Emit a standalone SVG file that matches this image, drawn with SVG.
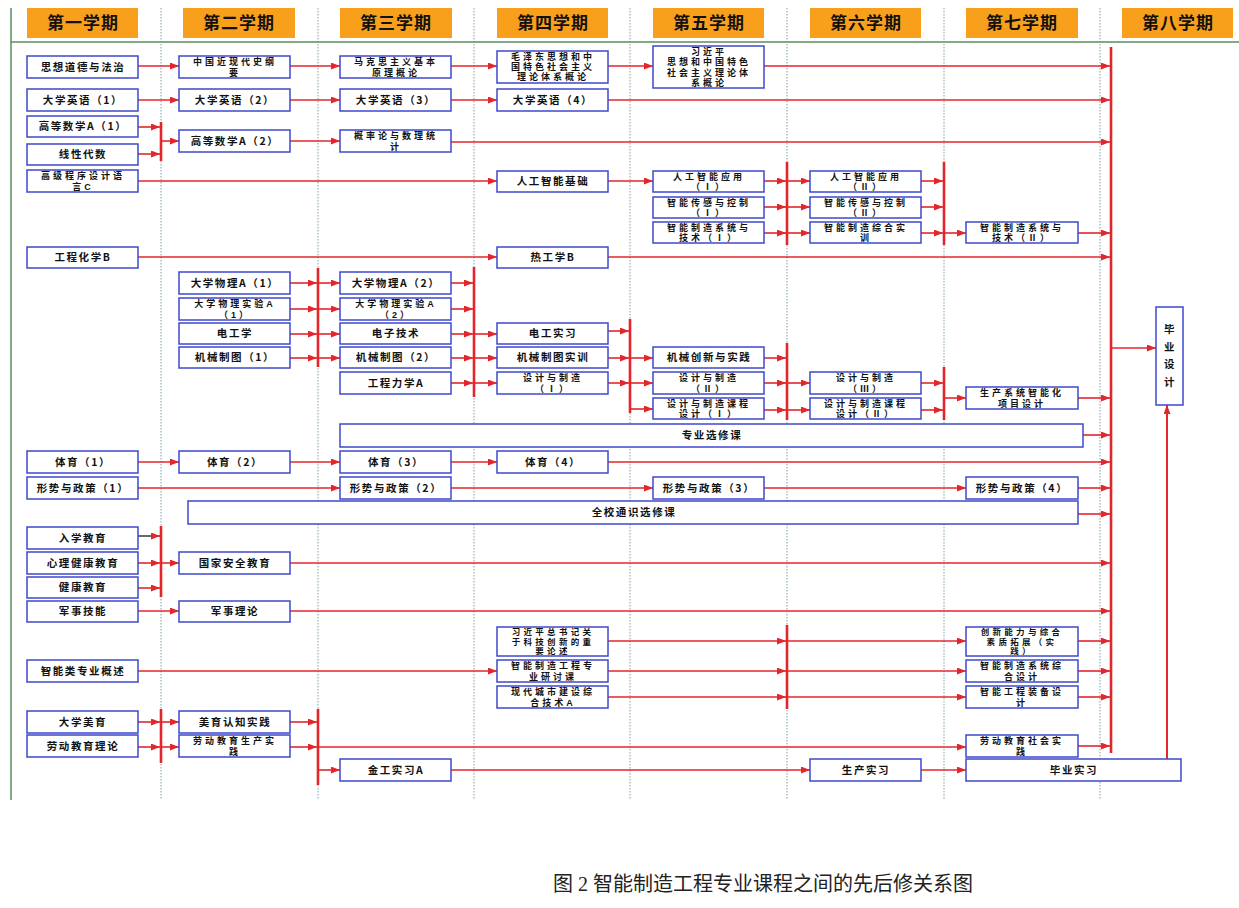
<svg xmlns="http://www.w3.org/2000/svg" width="1239" height="908" viewBox="0 0 1239 908">
<style>
.hd rect{fill:#F8A01C}
.hd text{font-family:"Noto Sans CJK SC","Noto Sans",sans-serif;font-size:17px;font-weight:700;text-anchor:middle;fill:#111;letter-spacing:1px}
.n rect{fill:#fff;stroke:#3F48CC;stroke-width:1.5}
.n text{font-family:"Noto Sans CJK SC","Noto Sans",sans-serif;font-size:10.5px;font-weight:700;text-anchor:middle;fill:#111;letter-spacing:1.6px}
.n text.m{font-family:"Liberation Sans","Noto Sans CJK SC",sans-serif;font-size:9px;letter-spacing:3px}
.n text.t{font-family:"Liberation Sans","Noto Sans CJK SC",sans-serif;font-size:8.5px;letter-spacing:3.3px}
.sep{stroke:#7FA0A8;stroke-width:1;stroke-dasharray:1.5 1.5}
.c line{stroke:#E3262B;stroke-width:1.6;fill:none}
.c line.a{marker-end:url(#ah)}
.c line.b{stroke-width:2.6}
.c line.k{stroke:#444}
.cap{font-family:"Liberation Serif","Noto Sans CJK SC",serif;font-size:20px;fill:#222}
</style>
<defs>
<marker id="ah" markerUnits="userSpaceOnUse" markerWidth="9" markerHeight="7" refX="9" refY="3.5" orient="auto"><path d="M0,0 L9,3.5 L0,7 z" fill="#E3262B"/></marker>
</defs>
<rect width="1239" height="908" fill="#fff"/>
<g id="frame">
<line x1="11" y1="8" x2="11" y2="800" stroke="#5B8C5B" stroke-width="1.5"/>
<line x1="11" y1="42" x2="1239" y2="42" stroke="#5B8C5B" stroke-width="1.5"/>
<line class="sep" x1="161" y1="8" x2="161" y2="800"/>
<line class="sep" x1="318" y1="8" x2="318" y2="800"/>
<line class="sep" x1="474" y1="8" x2="474" y2="800"/>
<line class="sep" x1="630" y1="8" x2="630" y2="800"/>
<line class="sep" x1="787" y1="8" x2="787" y2="800"/>
<line class="sep" x1="944" y1="8" x2="944" y2="800"/>
<line class="sep" x1="1100" y1="8" x2="1100" y2="800"/>
</g>
<g id="headers" class="hd">
<g id="h1"><rect x="27" y="8" width="111" height="30"/><text x="83" y="29">第一学期</text></g>
<g id="h2"><rect x="183" y="8" width="112" height="30"/><text x="239" y="29">第二学期</text></g>
<g id="h3"><rect x="340" y="8" width="112" height="30"/><text x="396" y="29">第三学期</text></g>
<g id="h4"><rect x="497" y="8" width="111" height="30"/><text x="553" y="29">第四学期</text></g>
<g id="h5"><rect x="653" y="8" width="111" height="30"/><text x="709" y="29">第五学期</text></g>
<g id="h6"><rect x="810" y="8" width="111" height="30"/><text x="866" y="29">第六学期</text></g>
<g id="h7"><rect x="966" y="8" width="112" height="30"/><text x="1022" y="29">第七学期</text></g>
<g id="h8"><rect x="1122" y="8" width="111" height="30"/><text x="1178" y="29">第八学期</text></g>
</g>
<g id="connectors" class="c">
<line class="a" x1="138" y1="66" x2="179" y2="66"/>
<line class="a" x1="290" y1="66" x2="340" y2="66"/>
<line class="a" x1="451" y1="66" x2="497" y2="66"/>
<line class="a" x1="608" y1="66" x2="653" y2="66"/>
<line class="a" x1="764" y1="66" x2="1110" y2="66"/>
<line class="a" x1="138" y1="100" x2="179" y2="100"/>
<line class="a" x1="290" y1="100" x2="340" y2="100"/>
<line class="a" x1="451" y1="100" x2="497" y2="100"/>
<line class="a" x1="608" y1="100" x2="1110" y2="100"/>
<line class="a" x1="138" y1="127" x2="160" y2="127"/>
<line class="a" x1="138" y1="154" x2="160" y2="154"/>
<line class="b" x1="161" y1="122" x2="161" y2="161"/>
<line class="a" x1="161" y1="141" x2="179" y2="141"/>
<line class="a" x1="290" y1="141" x2="340" y2="141"/>
<line class="a" x1="451" y1="142" x2="1110" y2="142"/>
<line class="a" x1="138" y1="181" x2="497" y2="181"/>
<line class="a" x1="608" y1="181" x2="653" y2="181"/>
<line class="a" x1="764" y1="181" x2="786" y2="181"/>
<line class="a" x1="764" y1="207" x2="786" y2="207"/>
<line class="a" x1="764" y1="233" x2="786" y2="233"/>
<line class="b" x1="787" y1="162" x2="787" y2="245"/>
<line class="a" x1="787" y1="181" x2="810" y2="181"/>
<line class="a" x1="787" y1="207" x2="810" y2="207"/>
<line class="a" x1="787" y1="233" x2="810" y2="233"/>
<line class="a" x1="921" y1="181" x2="943" y2="181"/>
<line class="a" x1="921" y1="207" x2="943" y2="207"/>
<line class="a" x1="921" y1="233" x2="943" y2="233"/>
<line class="b" x1="944" y1="162" x2="944" y2="245"/>
<line class="a" x1="944" y1="233" x2="966" y2="233"/>
<line class="a" x1="1078" y1="233" x2="1110" y2="233"/>
<line class="a" x1="138" y1="257" x2="497" y2="257"/>
<line class="a" x1="608" y1="257" x2="1110" y2="257"/>
<line class="a" x1="290" y1="283" x2="317" y2="283"/>
<line class="a" x1="290" y1="309" x2="317" y2="309"/>
<line class="a" x1="290" y1="334" x2="317" y2="334"/>
<line class="a" x1="290" y1="358" x2="317" y2="358"/>
<line class="b" x1="318" y1="268" x2="318" y2="367"/>
<line class="a" x1="318" y1="283" x2="340" y2="283"/>
<line class="a" x1="318" y1="309" x2="340" y2="309"/>
<line class="a" x1="318" y1="334" x2="340" y2="334"/>
<line class="a" x1="318" y1="358" x2="340" y2="358"/>
<line class="a" x1="451" y1="283" x2="473" y2="283"/>
<line class="a" x1="451" y1="309" x2="473" y2="309"/>
<line class="a" x1="451" y1="334" x2="473" y2="334"/>
<line class="a" x1="451" y1="358" x2="473" y2="358"/>
<line class="a" x1="451" y1="383" x2="473" y2="383"/>
<line class="b" x1="474" y1="267" x2="474" y2="397"/>
<line class="a" x1="474" y1="334" x2="497" y2="334"/>
<line class="a" x1="474" y1="358" x2="497" y2="358"/>
<line class="a" x1="474" y1="383" x2="497" y2="383"/>
<line class="a" x1="608" y1="331" x2="629" y2="331"/>
<line class="a" x1="608" y1="358" x2="629" y2="358"/>
<line class="a" x1="608" y1="383" x2="629" y2="383"/>
<line class="b" x1="630" y1="319" x2="630" y2="413"/>
<line class="a" x1="630" y1="358" x2="653" y2="358"/>
<line class="a" x1="630" y1="383" x2="653" y2="383"/>
<line class="a" x1="630" y1="409" x2="653" y2="409"/>
<line class="a" x1="764" y1="358" x2="786" y2="358"/>
<line class="a" x1="764" y1="383" x2="786" y2="383"/>
<line class="a" x1="764" y1="410" x2="786" y2="410"/>
<line class="b" x1="787" y1="343" x2="787" y2="420"/>
<line class="a" x1="787" y1="383" x2="810" y2="383"/>
<line class="a" x1="787" y1="410" x2="810" y2="410"/>
<line class="a" x1="921" y1="383" x2="943" y2="383"/>
<line class="a" x1="921" y1="410" x2="943" y2="410"/>
<line class="b" x1="944" y1="367" x2="944" y2="420"/>
<line class="a" x1="944" y1="398" x2="966" y2="398"/>
<line class="a" x1="1078" y1="398" x2="1110" y2="398"/>
<line class="a" x1="1083" y1="435" x2="1110" y2="435"/>
<line class="a" x1="138" y1="462" x2="179" y2="462"/>
<line class="a" x1="290" y1="462" x2="340" y2="462"/>
<line class="a" x1="451" y1="462" x2="497" y2="462"/>
<line class="a" x1="608" y1="462" x2="1110" y2="462"/>
<line class="a" x1="138" y1="488" x2="340" y2="488"/>
<line class="a" x1="451" y1="488" x2="653" y2="488"/>
<line class="a" x1="764" y1="488" x2="966" y2="488"/>
<line class="a" x1="1078" y1="488" x2="1110" y2="488"/>
<line class="a" x1="1078" y1="514" x2="1110" y2="514"/>
<line class="a k" x1="138" y1="536" x2="160" y2="536"/>
<line class="a" x1="138" y1="563" x2="160" y2="563"/>
<line class="a" x1="138" y1="588" x2="160" y2="588"/>
<line class="b" x1="161" y1="526" x2="161" y2="597"/>
<line class="a" x1="161" y1="563" x2="179" y2="563"/>
<line class="a" x1="290" y1="563" x2="1110" y2="563"/>
<line class="a" x1="138" y1="611" x2="179" y2="611"/>
<line class="a" x1="290" y1="611" x2="1110" y2="611"/>
<line class="a" x1="138" y1="671" x2="497" y2="671"/>
<line class="a" x1="608" y1="641" x2="786" y2="641"/>
<line class="a" x1="608" y1="671" x2="786" y2="671"/>
<line class="a" x1="608" y1="697" x2="786" y2="697"/>
<line class="b" x1="787" y1="625" x2="787" y2="709"/>
<line class="a" x1="787" y1="641" x2="966" y2="641"/>
<line class="a" x1="787" y1="671" x2="966" y2="671"/>
<line class="a" x1="787" y1="697" x2="966" y2="697"/>
<line class="a" x1="1078" y1="641" x2="1110" y2="641"/>
<line class="a" x1="1078" y1="671" x2="1110" y2="671"/>
<line class="a" x1="1078" y1="697" x2="1110" y2="697"/>
<line class="a" x1="138" y1="722" x2="160" y2="722"/>
<line class="a" x1="138" y1="747" x2="160" y2="747"/>
<line class="b" x1="161" y1="709" x2="161" y2="763"/>
<line class="a" x1="161" y1="722" x2="179" y2="722"/>
<line class="a" x1="161" y1="747" x2="179" y2="747"/>
<line class="a" x1="290" y1="722" x2="317" y2="722"/>
<line class="a" x1="290" y1="747" x2="317" y2="747"/>
<line class="b" x1="318" y1="709" x2="318" y2="785"/>
<line class="a" x1="318" y1="747" x2="966" y2="747"/>
<line class="a" x1="318" y1="770" x2="340" y2="770"/>
<line class="a" x1="451" y1="770" x2="810" y2="770"/>
<line class="a" x1="921" y1="770" x2="966" y2="770"/>
<line class="a" x1="1078" y1="746" x2="1110" y2="746"/>
<line class="b" x1="1111" y1="47" x2="1111" y2="753"/>
<line class="a" x1="1111" y1="348" x2="1156" y2="348"/>
<line class="a" x1="1167" y1="759" x2="1167" y2="405" style="stroke-width:2"/>
</g>
<g id="nodes" class="n">
<g id="n1"><rect x="27" y="56" width="111" height="22"/><text x="83" y="70.8">思想道德与法治</text></g>
<g id="n2"><rect x="179" y="56" width="111" height="22"/><text class="m" x="235" y="65">中国近现代史纲<tspan x="235" dy="10.5">要</tspan></text></g>
<g id="n3"><rect x="340" y="56" width="111" height="22"/><text class="m" x="396" y="65">马克思主义基本<tspan x="396" dy="10.5">原理概论</tspan></text></g>
<g id="n4"><rect x="497" y="51" width="111" height="32"/><text class="m" x="553" y="60.1">毛泽东思想和中<tspan x="553" dy="10.1">国特色社会主义</tspan><tspan x="553" dy="10.1">理论体系概论</tspan></text></g>
<g id="n5"><rect x="653" y="46" width="111" height="42"/><text class="m" x="709" y="54.5">习近平<tspan x="709" dy="10.5">思想和中国特色</tspan><tspan x="709" dy="10.5">社会主义理论体</tspan><tspan x="709" dy="10.5">系概论</tspan></text></g>
<g id="n6"><rect x="27" y="89" width="111" height="22"/><text x="83" y="103.8">大学英语（1）</text></g>
<g id="n7"><rect x="179" y="89" width="111" height="22"/><text x="235" y="103.8">大学英语（2）</text></g>
<g id="n8"><rect x="340" y="89" width="111" height="22"/><text x="396" y="103.8">大学英语（3）</text></g>
<g id="n9"><rect x="497" y="89" width="111" height="22"/><text x="553" y="103.8">大学英语（4）</text></g>
<g id="n10"><rect x="27" y="116" width="111" height="21"/><text x="83" y="130.3">高等数学A（1）</text></g>
<g id="n11"><rect x="27" y="144" width="111" height="21"/><text x="83" y="158.3">线性代数</text></g>
<g id="n12"><rect x="179" y="130" width="111" height="22"/><text x="235" y="144.8">高等数学A（2）</text></g>
<g id="n13"><rect x="340" y="130" width="111" height="22"/><text class="m" x="396" y="139">概率论与数理统<tspan x="396" dy="10.5">计</tspan></text></g>
<g id="n14"><rect x="27" y="170" width="111" height="22"/><text class="m" x="83" y="179">高级程序设计语<tspan x="83" dy="10.5">言C</tspan></text></g>
<g id="n15"><rect x="497" y="171" width="111" height="21"/><text x="553" y="185.3">人工智能基础</text></g>
<g id="n16"><rect x="653" y="171" width="111" height="21"/><text class="m" x="709" y="179.5">人工智能应用<tspan x="709" dy="10.5">（Ⅰ）</tspan></text></g>
<g id="n17"><rect x="653" y="197" width="111" height="21"/><text class="m" x="709" y="205.5">智能传感与控制<tspan x="709" dy="10.5">（Ⅰ）</tspan></text></g>
<g id="n18"><rect x="653" y="222" width="111" height="21"/><text class="m" x="709" y="230.5">智能制造系统与<tspan x="709" dy="10.5">技术（Ⅰ）</tspan></text></g>
<g id="n19"><rect x="810" y="171" width="111" height="21"/><text class="m" x="866" y="179.5">人工智能应用<tspan x="866" dy="10.5">（Ⅱ）</tspan></text></g>
<g id="n20"><rect x="810" y="197" width="111" height="21"/><text class="m" x="866" y="205.5">智能传感与控制<tspan x="866" dy="10.5">（Ⅱ）</tspan></text></g>
<g id="n21"><rect x="810" y="222" width="111" height="21"/><text class="m" x="866" y="230.5">智能制造综合实<tspan x="866" dy="10.5">训</tspan></text></g>
<g id="n22"><rect x="966" y="222" width="112" height="21"/><text class="m" x="1022" y="230.5">智能制造系统与<tspan x="1022" dy="10.5">技术（Ⅱ）</tspan></text></g>
<g id="n23"><rect x="27" y="247" width="111" height="21"/><text x="83" y="261.3">工程化学B</text></g>
<g id="n24"><rect x="497" y="247" width="111" height="21"/><text x="553" y="261.3">热工学B</text></g>
<g id="n25"><rect x="179" y="272" width="111" height="22"/><text x="235" y="286.8">大学物理A（1）</text></g>
<g id="n26"><rect x="179" y="298" width="111" height="22"/><text class="m" x="235" y="307">大学物理实验A<tspan x="235" dy="10.5">（1）</tspan></text></g>
<g id="n27"><rect x="179" y="323" width="111" height="21"/><text x="235" y="337.3">电工学</text></g>
<g id="n28"><rect x="179" y="347" width="111" height="21"/><text x="235" y="361.3">机械制图（1）</text></g>
<g id="n29"><rect x="340" y="272" width="111" height="22"/><text x="396" y="286.8">大学物理A（2）</text></g>
<g id="n30"><rect x="340" y="298" width="111" height="22"/><text class="m" x="396" y="307">大学物理实验A<tspan x="396" dy="10.5">（2）</tspan></text></g>
<g id="n31"><rect x="340" y="323" width="111" height="21"/><text x="396" y="337.3">电子技术</text></g>
<g id="n32"><rect x="340" y="347" width="111" height="21"/><text x="396" y="361.3">机械制图（2）</text></g>
<g id="n33"><rect x="340" y="372" width="111" height="22"/><text x="396" y="386.8">工程力学A</text></g>
<g id="n34"><rect x="497" y="323" width="111" height="21"/><text x="553" y="337.3">电工实习</text></g>
<g id="n35"><rect x="497" y="347" width="111" height="21"/><text x="553" y="361.3">机械制图实训</text></g>
<g id="n36"><rect x="497" y="372" width="111" height="22"/><text class="m" x="553" y="381">设计与制造<tspan x="553" dy="10.5">（Ⅰ）</tspan></text></g>
<g id="n37"><rect x="653" y="347" width="111" height="21"/><text x="709" y="361.3">机械创新与实践</text></g>
<g id="n38"><rect x="653" y="372" width="111" height="22"/><text class="m" x="709" y="381">设计与制造<tspan x="709" dy="10.5">（Ⅱ）</tspan></text></g>
<g id="n39"><rect x="653" y="398" width="111" height="21"/><text class="m" x="709" y="406.5">设计与制造课程<tspan x="709" dy="10.5">设计（Ⅰ）</tspan></text></g>
<g id="n40"><rect x="810" y="372" width="111" height="22"/><text class="m" x="866" y="381">设计与制造<tspan x="866" dy="10.5">（Ⅲ）</tspan></text></g>
<g id="n41"><rect x="810" y="398" width="111" height="21"/><text class="m" x="866" y="406.5">设计与制造课程<tspan x="866" dy="10.5">设计（Ⅱ）</tspan></text></g>
<g id="n42"><rect x="966" y="387" width="112" height="22"/><text class="m" x="1022" y="396">生产系统智能化<tspan x="1022" dy="10.5">项目设计</tspan></text></g>
<g id="n43"><rect x="340" y="424" width="743" height="23"/><text x="712" y="439.3">专业选修课</text></g>
<g id="n44"><rect x="27" y="451" width="111" height="22"/><text x="83" y="465.8">体育（1）</text></g>
<g id="n45"><rect x="179" y="451" width="111" height="22"/><text x="235" y="465.8">体育（2）</text></g>
<g id="n46"><rect x="340" y="451" width="111" height="22"/><text x="396" y="465.8">体育（3）</text></g>
<g id="n47"><rect x="497" y="451" width="111" height="22"/><text x="553" y="465.8">体育（4）</text></g>
<g id="n48"><rect x="27" y="477" width="111" height="22"/><text x="83" y="491.8">形势与政策（1）</text></g>
<g id="n49"><rect x="340" y="477" width="111" height="22"/><text x="396" y="491.8">形势与政策（2）</text></g>
<g id="n50"><rect x="653" y="477" width="111" height="22"/><text x="709" y="491.8">形势与政策（3）</text></g>
<g id="n51"><rect x="966" y="477" width="112" height="22"/><text x="1022" y="491.8">形势与政策（4）</text></g>
<g id="n52"><rect x="188" y="501" width="890" height="23"/><text x="634" y="516.3">全校通识选修课</text></g>
<g id="n53"><rect x="27" y="527" width="111" height="22"/><text x="83" y="541.8">入学教育</text></g>
<g id="n54"><rect x="27" y="552" width="111" height="22"/><text x="83" y="566.8">心理健康教育</text></g>
<g id="n55"><rect x="27" y="577" width="111" height="21"/><text x="83" y="591.3">健康教育</text></g>
<g id="n56"><rect x="179" y="552" width="111" height="22"/><text x="235" y="566.8">国家安全教育</text></g>
<g id="n57"><rect x="27" y="601" width="111" height="21"/><text x="83" y="615.3">军事技能</text></g>
<g id="n58"><rect x="179" y="601" width="111" height="21"/><text x="235" y="615.3">军事理论</text></g>
<g id="n59"><rect x="497" y="627" width="111" height="29"/><text class="t" x="553" y="635">习近平总书记关<tspan x="553" dy="9.5">于科技创新的重</tspan><tspan x="553" dy="9.5">要论述</tspan></text></g>
<g id="n60"><rect x="27" y="660" width="111" height="22"/><text x="83" y="674.8">智能类专业概述</text></g>
<g id="n61"><rect x="497" y="660" width="111" height="22"/><text class="m" x="553" y="669">智能制造工程专<tspan x="553" dy="10.5">业研讨课</tspan></text></g>
<g id="n62"><rect x="497" y="686" width="111" height="22"/><text class="m" x="553" y="695">现代城市建设综<tspan x="553" dy="10.5">合技术A</tspan></text></g>
<g id="n63"><rect x="966" y="627" width="112" height="29"/><text class="t" x="1022" y="635">创新能力与综合<tspan x="1022" dy="9.5">素质拓展（实</tspan><tspan x="1022" dy="9.5">践）</tspan></text></g>
<g id="n64"><rect x="966" y="660" width="112" height="22"/><text class="m" x="1022" y="669">智能制造系统综<tspan x="1022" dy="10.5">合设计</tspan></text></g>
<g id="n65"><rect x="966" y="686" width="112" height="22"/><text class="m" x="1022" y="695">智能工程装备设<tspan x="1022" dy="10.5">计</tspan></text></g>
<g id="n66"><rect x="27" y="711" width="111" height="22"/><text x="83" y="725.8">大学美育</text></g>
<g id="n67"><rect x="27" y="735" width="111" height="22"/><text x="83" y="749.8">劳动教育理论</text></g>
<g id="n68"><rect x="179" y="711" width="111" height="22"/><text x="235" y="725.8">美育认知实践</text></g>
<g id="n69"><rect x="179" y="735" width="111" height="22"/><text class="m" x="235" y="744">劳动教育生产实<tspan x="235" dy="10.5">践</tspan></text></g>
<g id="n70"><rect x="966" y="735" width="112" height="22"/><text class="m" x="1022" y="744">劳动教育社会实<tspan x="1022" dy="10.5">践</tspan></text></g>
<g id="n71"><rect x="340" y="759" width="111" height="22"/><text x="396" y="773.8">金工实习A</text></g>
<g id="n72"><rect x="810" y="759" width="111" height="22"/><text x="866" y="773.8">生产实习</text></g>
<g id="n73"><rect x="966" y="759" width="215" height="22"/><text x="1074" y="773.8">毕业实习</text></g>
<g id="n74"><rect x="1156" y="307" width="27" height="98"/><text x="1170" y="333">毕<tspan x="1170" dy="17.5">业</tspan><tspan x="1170" dy="17.5">设</tspan><tspan x="1170" dy="17.5">计</tspan></text></g>
</g>
<text class="cap" x="553" y="891">图 2 智能制造工程专业课程之间的先后修关系图</text>
</svg>
